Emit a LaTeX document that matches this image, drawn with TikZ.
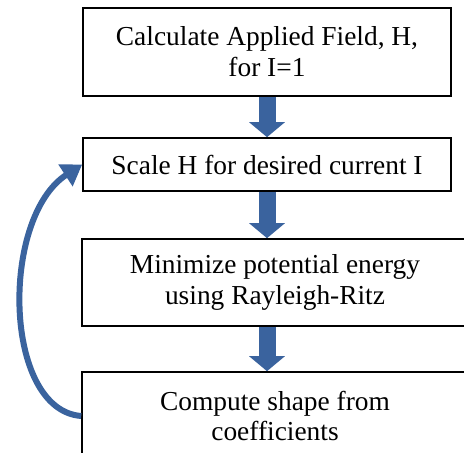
\documentclass[tikz,border=0pt]{standalone}
\usepackage{fontspec}
\setmainfont{Liberation Serif}
\usetikzlibrary{arrows.meta}

\definecolor{flowblue}{RGB}{58,99,158}

\begin{document}
\begin{tikzpicture}[x=1bp,y=-1bp]
   \useasboundingbox (0,0) rectangle (464,453);
   \begin{scope}[every node/.style={draw=black,line width=1.6bp,fill=white,inner sep=0pt,
        align=center,font=\fontsize{27.5}{31}\selectfont}]
    \node[minimum width=368bp,minimum height=88bp] (calc) at (267,52) {Calculate Applied Field, H,\\ for I=1};
    \node[minimum width=368bp,minimum height=53bp] (scale) at (267,164.5) {Scale H for desired current I};
    \node[minimum width=386bp,minimum height=87bp] (minim) at (275,282.5) {Minimize potential energy\\ using Rayleigh-Ritz};
    \node[minimum width=386bp,minimum height=88bp] (shape) at (275,416) {Compute shape from\\ coefficients};
   \end{scope}
   \begin{scope}[every path/.style={draw=flowblue,line width=17bp,-{Triangle[width=35bp,length=15bp]}}]
    \draw (calc.south) -- (scale.north);
    \draw (scale.south) -- (scale.south |- minim.north);
    \draw (scale.south |- minim.south) -- (scale.south |- shape.north);
   \end{scope}
   % loop back to the scaling step
   \draw[flowblue,line width=6bp,-{Triangle[width=25bp,length=20bp]}]
     (shape.west) .. controls (3,410) and (0,218) .. (scale.west);
\end{tikzpicture}
\end{document}
